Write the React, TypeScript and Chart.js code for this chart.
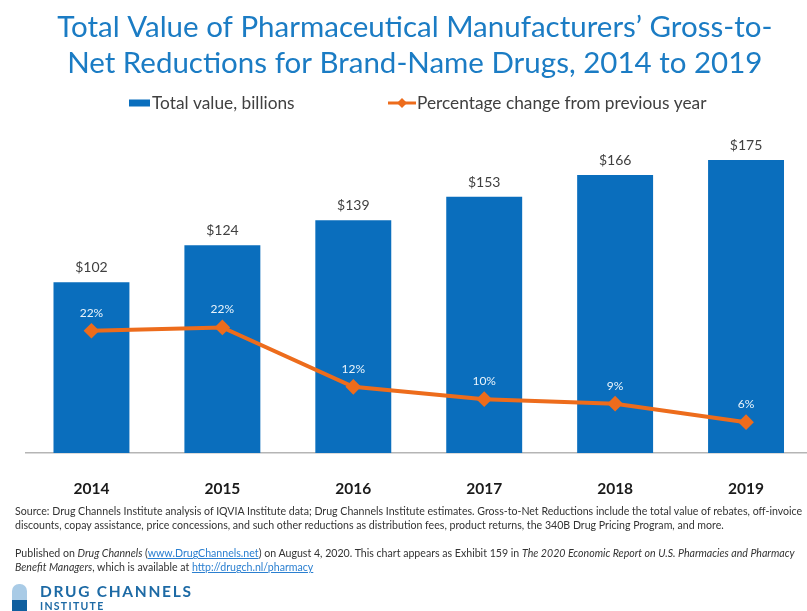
import React, { useEffect, useRef } from "react";
import { Chart, registerables, Plugin } from "chart.js";

Chart.register(...registerables);

// Gross-to-net reductions by year
const years = ["2014", "2015", "2016", "2017", "2018", "2019"];
const totalBillions = [102, 124, 139, 153, 166, 175];
const pctChange = [21.8, 22.4, 11.8, 9.6, 8.8, 5.5];

const titleLines = [
  "Total Value of Pharmaceutical Manufacturers’ Gross-to-",
  "Net Reductions for Brand-Name Drugs, 2014 to 2019",
];
const barLabel = "Total value, billions";
const lineLabel = "Percentage change from previous year";

const BLUE = "#0a6ebd";
const ORANGE = "#ed6c1c";
const FONT = "Lato, 'Open Sans', sans-serif";

// Value captions above the bars and above the line points
const valueLabels: Plugin<"bar"> = {
  id: "valueLabels",
  afterDatasetsDraw(chart) {
    const { ctx } = chart;
    ctx.save();
    ctx.textAlign = "center";
    ctx.textBaseline = "middle";
    ctx.font = `14px ${FONT}`;
    ctx.fillStyle = "#404040";
    chart.getDatasetMeta(0).data.forEach((el, i) => {
      ctx.fillText(`$${totalBillions[i]}`, el.x, el.y - 14.5);
    });
    ctx.font = `12px ${FONT}`;
    ctx.fillStyle = "#eaf4fb";
    chart.getDatasetMeta(1).data.forEach((el, i) => {
      ctx.fillText(`${Math.round(pctChange[i])}%`, el.x, el.y - 18);
    });
    ctx.restore();
  },
};

// Legend row between the title and the plot
const legendRow: Plugin<"bar"> = {
  id: "legendRow",
  afterDraw(chart) {
    const { ctx } = chart;
    const y = 103;
    ctx.save();
    ctx.font = `17.3px ${FONT}`;
    ctx.textBaseline = "middle";
    ctx.fillStyle = BLUE;
    ctx.fillRect(129, y - 3.5, 21, 7);
    ctx.fillStyle = "#404040";
    ctx.fillText(chart.data.datasets[0].label as string, 152, y);
    ctx.strokeStyle = ORANGE;
    ctx.lineWidth = 3;
    ctx.beginPath();
    ctx.moveTo(388, y);
    ctx.lineTo(416, y);
    ctx.stroke();
    ctx.fillStyle = ORANGE;
    ctx.beginPath();
    ctx.moveTo(402, y - 5);
    ctx.lineTo(407, y);
    ctx.lineTo(402, y + 5);
    ctx.lineTo(397, y);
    ctx.closePath();
    ctx.fill();
    ctx.fillStyle = "#404040";
    ctx.fillText(chart.data.datasets[1].label as string, 417, y);
    ctx.restore();
  },
};

const noteStyle: React.CSSProperties = {
  position: "absolute",
  left: 15,
  whiteSpace: "nowrap",
  font: `10.6px ${FONT}`,
  color: "#333",
};
const linkStyle: React.CSSProperties = { color: "#2a7fd0", textDecoration: "underline" };

export default function App() {
  const canvasRef = useRef<HTMLCanvasElement>(null);

  useEffect(() => {
    const chart = new Chart(canvasRef.current!, {
      type: "bar",
      data: {
        labels: years,
        datasets: [
          {
            label: barLabel,
            data: totalBillions,
            backgroundColor: BLUE,
            categoryPercentage: 1,
            barPercentage: 0.58,
            yAxisID: "y",
            order: 2,
          },
          {
            type: "line",
            label: lineLabel,
            data: pctChange,
            borderColor: ORANGE,
            backgroundColor: ORANGE,
            borderWidth: 4,
            pointStyle: "rectRot",
            pointRadius: 5,
            pointBackgroundColor: ORANGE,
            pointBorderColor: ORANGE,
            tension: 0,
            yAxisID: "y1",
            order: 1,
          } as any,
        ],
      },
      options: {
        responsive: false,
        animation: false,
        layout: { padding: { left: 18, right: 18.5, top: 0, bottom: 108 } },
        plugins: {
          legend: { display: false },
          tooltip: { enabled: false },
          title: {
            display: true,
            text: titleLines,
            color: "#1b7cc4",
            font: { family: FONT, size: 29.5, weight: "normal", lineHeight: 36 / 29.5 },
            padding: { top: 9, bottom: 58 },
          },
        },
        scales: {
          x: {
            grid: { display: false },
            border: { color: "#b5b5b5", width: 1.5 },
            ticks: {
              color: "#1a1a1a",
              font: { family: FONT, size: 15.5, weight: "bold" },
              padding: 19,
              maxRotation: 0,
            },
            afterFit: (s: any) => {
              s.height = 50;
            },
          },
          y: {
            min: 0,
            max: 187.5,
            grid: { display: false },
            border: { display: false },
            ticks: { display: false },
            afterFit: (s: any) => {
              s.width = 8;
            },
          },
          y1: { min: 0, max: 56, display: false, position: "right" },
        },
      },
      plugins: [valueLabels, legendRow],
    });
    return () => chart.destroy();
  }, []);

  return (
    <div
      style={{
        position: "absolute",
        left: 0,
        top: 0,
        width: 807,
        height: 611,
        overflow: "hidden",
        background: "#fff",
      }}
    >
      <canvas ref={canvasRef} width={830} height={611} style={{ position: "absolute", left: 0, top: 0 }} />
      <div style={{ ...noteStyle, top: 505 }}>
        Source: Drug Channels Institute analysis of IQVIA Institute data; Drug Channels Institute estimates. Gross-to-Net
        Reductions include the total value of rebates, off-invoice
      </div>
      <div style={{ ...noteStyle, top: 519 }}>
        discounts, copay assistance, price concessions, and such other reductions as distribution fees, product returns,
        the 340B Drug Pricing Program, and more.
      </div>
      <div style={{ ...noteStyle, top: 547 }}>
        Published on <i>Drug Channels</i> (<span style={linkStyle}>www.DrugChannels.net</span>) on August 4, 2020. This
        chart appears as Exhibit 159 in <i>The 2020 Economic Report on U.S. Pharmacies and Pharmacy</i>
      </div>
      <div style={{ ...noteStyle, top: 561 }}>
        <i>Benefit Managers</i>, which is available at <span style={linkStyle}>http://drugch.nl/pharmacy</span>
      </div>
      <div
        style={{
          position: "absolute",
          left: 12,
          top: 584,
          width: 15,
          height: 40,
          borderRadius: "7px 7px 0 0",
          background: "linear-gradient(#a9cbe6 0 40%, #0f5f9f 40% 100%)",
        }}
      />
      <div
        style={{
          position: "absolute",
          left: 40,
          top: 582,
          font: `bold 15.5px ${FONT}`,
          letterSpacing: 1.7,
          color: "#1d6aa5",
          whiteSpace: "nowrap",
        }}
      >
        DRUG CHANNELS
      </div>
      <div
        style={{
          position: "absolute",
          left: 40,
          top: 600,
          font: `bold 10.5px ${FONT}`,
          letterSpacing: 1.3,
          color: "#1d6aa5",
          whiteSpace: "nowrap",
        }}
      >
        INSTITUTE
      </div>
    </div>
  );
}
